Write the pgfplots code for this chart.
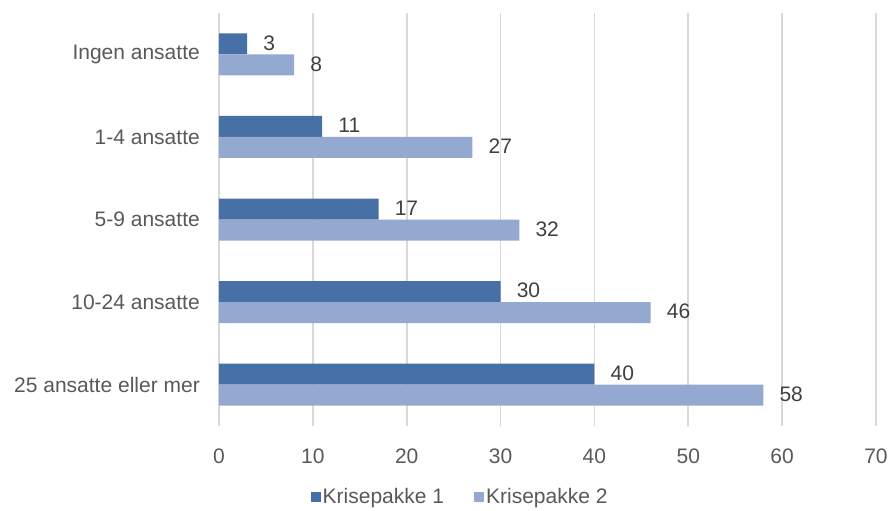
\documentclass[border=0pt]{standalone}
\usepackage{pgfplots}
\pgfplotsset{compat=1.18}
\usepackage{fontspec}
\setmainfont{Liberation Sans}
\definecolor{kp1}{HTML}{4670A6}
\definecolor{kp2}{HTML}{94A9D0}
\definecolor{txt}{HTML}{595959}
\definecolor{lbl}{HTML}{404040}
\definecolor{gridc}{HTML}{D9D9D9}
\begin{document}
\fontsize{21bp}{25bp}\selectfont
\begin{tikzpicture}
\useasboundingbox (0,0) rectangle (888bp,-511bp);
\begin{axis}[
    at={(219bp,-13bp)}, anchor=north west,
    scale only axis,
    width=657bp, height=413bp,
    xbar=0pt, bar width=21bp,
    xmin=0, xmax=70, xtick={0,10,...,70},
    ymin=-0.5, ymax=4.5,
    ytick={0,1,2,3,4},
    yticklabels={25 ansatte eller mer, 10-24 ansatte, 5-9 ansatte, 1-4 ansatte, Ingen ansatte},
    axis line style={draw=none},
    major tick length=0pt,
    xmajorgrids, major grid style={gridc, line width=1.8bp},
    ticklabel style={font=\fontsize{21bp}{25bp}\selectfont, text=txt},
    xticklabel style={yshift=-16bp},
    yticklabel style={xshift=-12bp},
    /pgf/number format/assume math mode=true,
    nodes near coords,
    nodes near coords style={font=\fontsize{21bp}{25bp}\selectfont, text=lbl, anchor=west, xshift=9bp, yshift=1bp},
    legend style={at={(0.367,-0.172)}, anchor=center, draw=none, fill=none,
        legend columns=2, font=\fontsize{21bp}{25bp}\selectfont, text=txt,
        /tikz/every even column/.append style={column sep=28bp}},
    legend cell align=left,
    legend image code/.code={\fill[#1] (0bp,-5bp) rectangle (10bp,5bp);},
]
\addplot[draw=none, fill=kp1, bar shift=10.5bp] coordinates {(3,4) (11,3) (17,2) (30,1) (40,0)};
\addplot[draw=none, fill=kp2, bar shift=-10.5bp] coordinates {(8,4) (27,3) (32,2) (46,1) (58,0)};
\legend{Krisepakke 1, Krisepakke 2}
\end{axis}
\end{tikzpicture}
\end{document}
